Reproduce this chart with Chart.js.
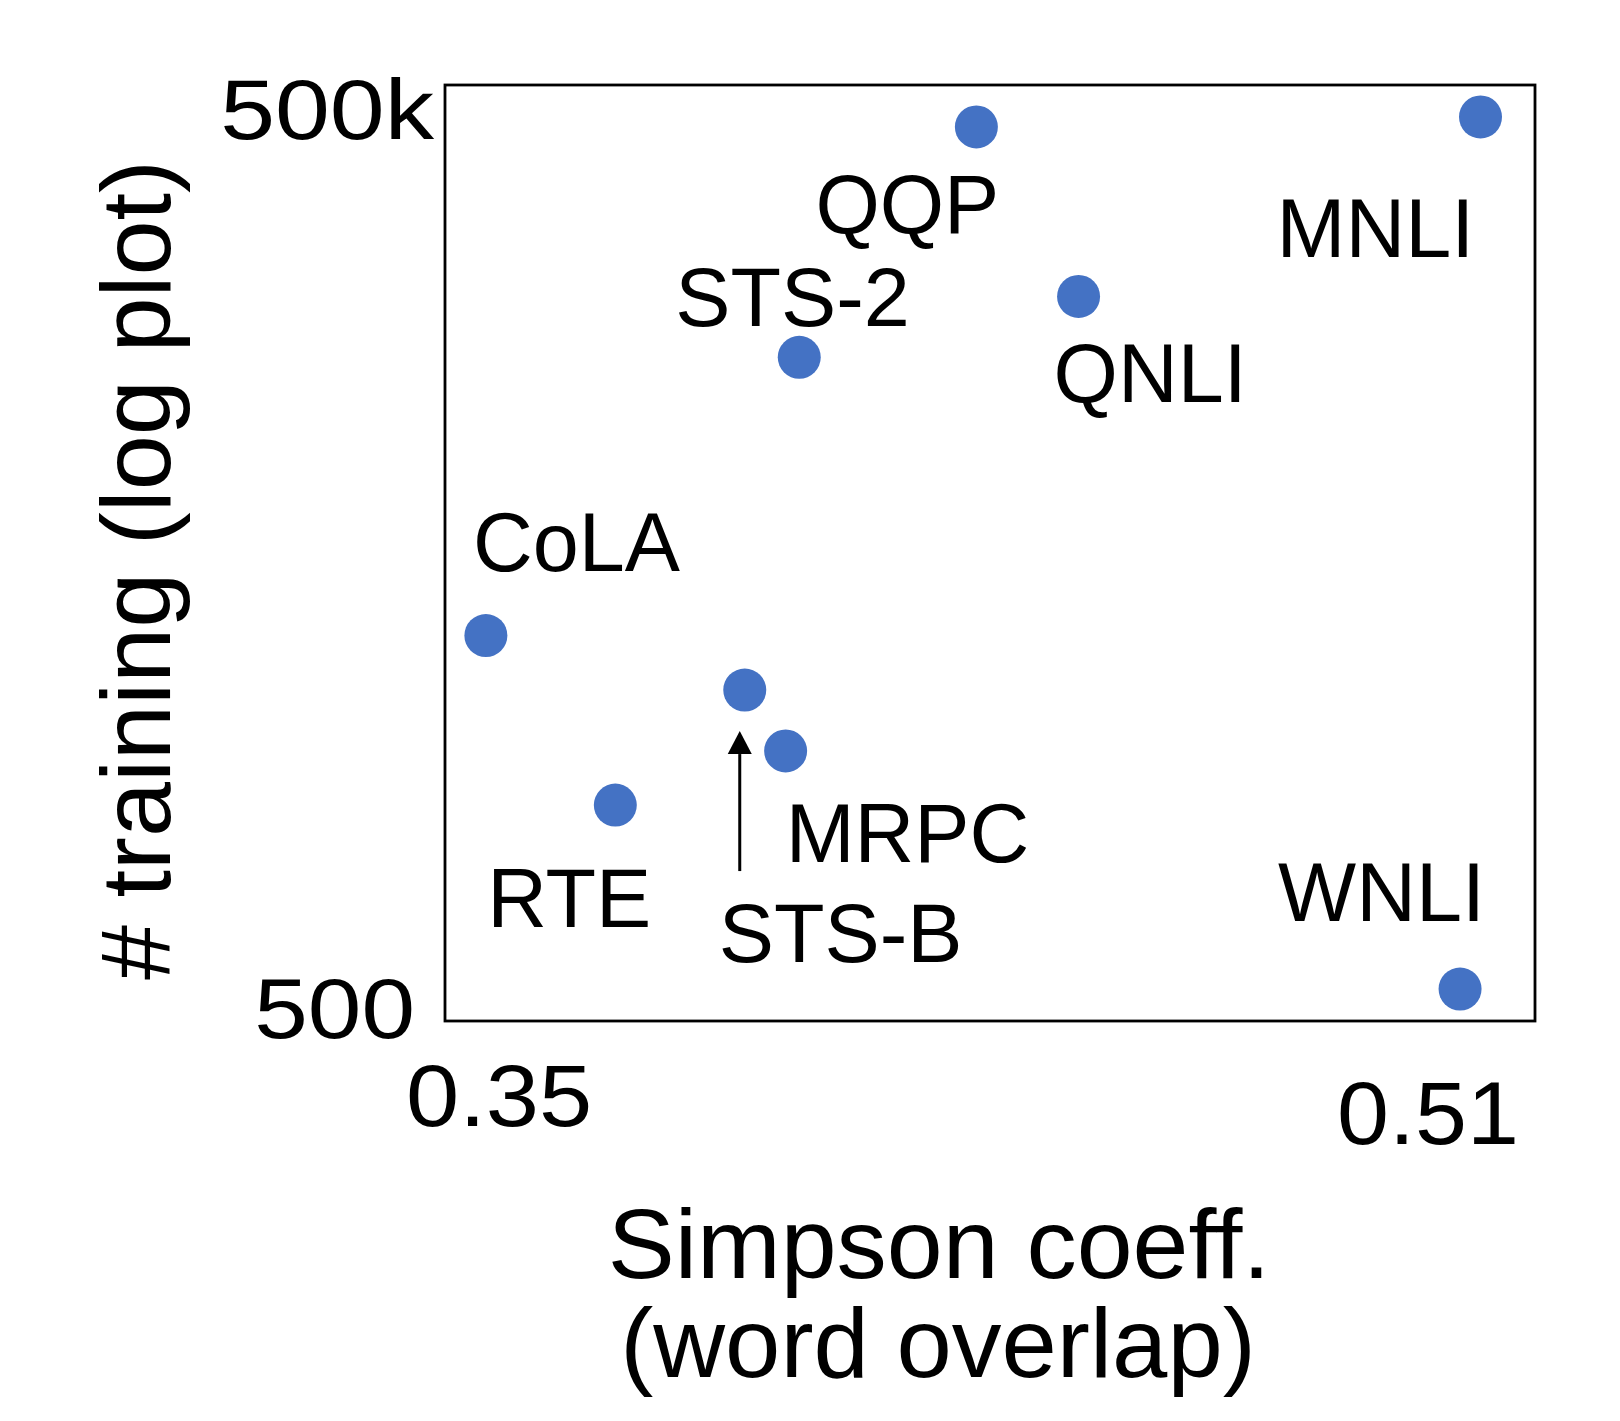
<!DOCTYPE html>
<html><head><meta charset="utf-8">
<script src="https://cdn.jsdelivr.net/npm/chart.js@4/dist/chart.umd.min.js"></script>
<style>html,body{margin:0;padding:0;background:#fff}canvas{display:block}</style>
</head><body>
<canvas id="c" width="1620" height="1421"></canvas>
<script>
// ---- data ----
const taskNames = ['QQP','MNLI','QNLI','STS-2','CoLA','STS-B','MRPC','RTE','WNLI'];
const simpsonCoeff = [0.428,0.502,0.443,0.402,0.356,0.394,0.400,0.375,0.499];
const trainingSize = [367000,395000,105000,67000,8600,5750,3670,2460,633];
const xAxisRange = [0.35, 0.51];
const yAxisRange = [500, 500000];
const xTickLabels = ['0.35','0.51'];
const yTickLabels = ['500','500k'];
const xTitleLines = ['Simpson coeff.','(word overlap)'];
const yTitleText = '# training (log plot)';
const arrowTarget = 'STS-B';

// label placement relative to each point (pixels): [dx of left edge, dy of baseline]
const labelOffsets = {
  'QQP':[-161,106],'MNLI':[-204,140],'QNLI':[-25,106],'STS-2':[-124,-31],
  'CoLA':[-13,-65],'STS-B':[-26,272],'MRPC':[0,111],'RTE':[-128,122],'WNLI':[-182,-68]
};

const FONT = '"Liberation Sans", Arial, Helvetica, sans-serif';
function txt(ctx, s, x, y, size, sx, align) {
  ctx.save();
  ctx.font = size + 'px ' + FONT;
  ctx.fillStyle = '#000';
  ctx.textAlign = align || 'left';
  ctx.textBaseline = 'alphabetic';
  ctx.translate(x, y);
  ctx.scale(sx, 1);
  ctx.fillText(s, 0, 0);
  ctx.restore();
}

const decor = {
  id: 'decor',
  afterDatasetsDraw(chart) {
    const ctx = chart.ctx, a = chart.chartArea;
    const meta = chart.getDatasetMeta(0);
    // frame
    ctx.save();
    ctx.strokeStyle = '#000';
    ctx.lineWidth = 2.8;
    ctx.strokeRect(a.left, a.top, a.right - a.left, a.bottom - a.top);
    ctx.restore();
    // point labels
    meta.data.forEach((pt, i) => {
      const name = taskNames[i];
      const off = labelOffsets[name];
      txt(ctx, name, pt.x + off[0], pt.y + off[1], 84, 0.985, 'left');
      if (name === arrowTarget) {
        const ax = pt.x - 5, tip = pt.y + 41, base = pt.y + 64, end = pt.y + 181;
        ctx.save();
        ctx.strokeStyle = '#000'; ctx.fillStyle = '#000'; ctx.lineWidth = 3;
        ctx.beginPath(); ctx.moveTo(ax, end); ctx.lineTo(ax, base); ctx.stroke();
        ctx.beginPath(); ctx.moveTo(ax, tip); ctx.lineTo(ax - 12, base); ctx.lineTo(ax + 12, base); ctx.closePath(); ctx.fill();
        ctx.restore();
      }
    });
    // tick labels
    txt(ctx, yTickLabels[1], a.left - 11, a.top + 54, 85, 1.16, 'right');
    txt(ctx, yTickLabels[0], a.left - 30, a.bottom + 17, 86, 1.12, 'right');
    txt(ctx, xTickLabels[0], a.left - 39, a.bottom + 105, 87, 1.1, 'left');
    txt(ctx, xTickLabels[1], a.right - 16, a.bottom + 123, 89, 1.05, 'right');
    // axis titles
    txt(ctx, xTitleLines[0], 939, 1278, 98, 1.025, 'center');
    txt(ctx, xTitleLines[1], 938, 1377, 98, 1.015, 'center');
    ctx.save();
    ctx.translate(170, 570);
    ctx.rotate(-Math.PI / 2);
    txt(ctx, yTitleText, 0, 0, 99, 1.0, 'center');
    ctx.restore();
  }
};

new Chart(document.getElementById('c'), {
  type: 'scatter',
  data: {
    datasets: [{
      data: simpsonCoeff.map((x, i) => ({ x: x, y: trainingSize[i] })),
      backgroundColor: '#4472C4',
      borderColor: '#4472C4',
      borderWidth: 0,
      pointRadius: 21.5,
      pointHoverRadius: 21.5,
      clip: false
    }]
  },
  options: {
    responsive: false,
    animation: false,
    devicePixelRatio: 1,
    layout: { padding: { left: 445, top: 85, right: 85, bottom: 400 } },
    plugins: { legend: { display: false }, tooltip: { enabled: false } },
    scales: {
      x: { type: 'linear', min: xAxisRange[0], max: xAxisRange[1], display: false },
      y: { type: 'logarithmic', min: yAxisRange[0], max: yAxisRange[1], display: false }
    }
  },
  plugins: [decor]
});
</script>
</body></html>
